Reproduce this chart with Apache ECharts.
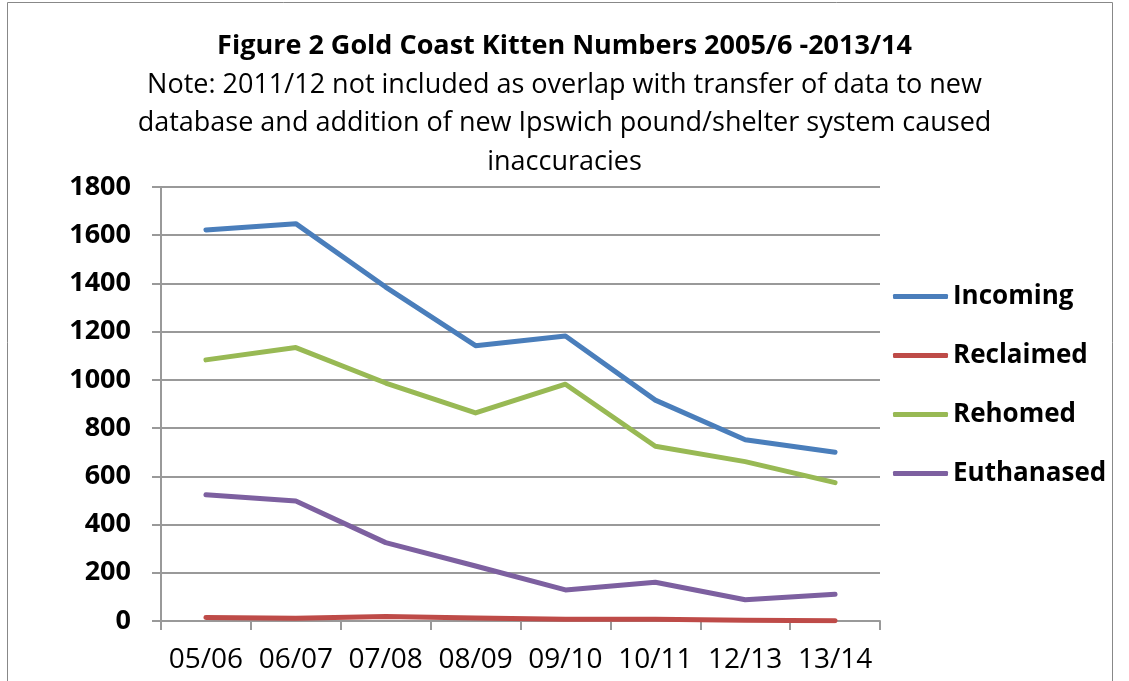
<!DOCTYPE html>
<html>
<head>
<meta charset="utf-8">
<script src="https://cdn.jsdelivr.net/npm/echarts@6/dist/echarts.min.js"></script>
<style>
  html, body { margin: 0; padding: 0; background: #fff; }
  #chart { width: 1129px; height: 681px; }
</style>
</head>
<body>
<div id="chart"></div>
<script>
// Financial years shown (2011/12 omitted)
const categories = ['05/06', '06/07', '07/08', '08/09', '09/10', '10/11', '12/13', '13/14'];

// Kitten numbers per year
const incoming   = [1622, 1648, 1385, 1142, 1182, 916, 752, 700];
const reclaimed  = [15, 11, 19, 12, 7, 7, 3, 1];
const rehomed    = [1083, 1134, 987, 863, 982, 725, 661, 574];
const euthanased = [524, 498, 325, 228, 129, 161, 88, 111];

const yTicks = { min: 0, max: 1800, interval: 200 };

const FONT = '"Open Sans", Lato, sans-serif';

const chart = echarts.init(document.getElementById('chart'), null, { renderer: 'canvas' });

function lineSeries(name, data, color) {
  return {
    name: name,
    type: 'line',
    data: data,
    symbol: 'none',
    smooth: false,
    lineStyle: { width: 5, color: color, cap: 'round', join: 'round' },
    itemStyle: { color: color }
  };
}

chart.setOption({
  animation: false,
  backgroundColor: '#fff',
  textStyle: { fontFamily: FONT },
  title: {
    left: 'center',
    top: 24,
    text: 'Figure 2 Gold Coast Kitten Numbers 2005/6 -2013/14',
    subtext: 'Note: 2011/12 not included as overlap with transfer of data to new\ndatabase and addition of new Ipswich pound/shelter system caused\ninaccuracies',
    itemGap: 3,
    textStyle: { fontFamily: FONT, fontSize: 27, fontWeight: 'bold', color: '#000', lineHeight: 34 },
    subtextStyle: { fontFamily: FONT, fontSize: 27, color: '#000', lineHeight: 38.5, align: 'center' }
  },
  legend: {
    orient: 'vertical',
    left: 888,
    top: 277,
    itemWidth: 55,
    itemHeight: 5,
    itemGap: 30,
    icon: 'roundRect',
    textStyle: { fontFamily: FONT, fontSize: 26, fontWeight: 'bold', color: '#000', lineHeight: 29 },
    data: ['Incoming', 'Reclaimed', 'Rehomed', 'Euthanased']
  },
  grid: { left: 161, right: 249, top: 187, bottom: 60, containLabel: false },
  xAxis: {
    type: 'category',
    data: categories,
    boundaryGap: true,
    axisLine: { lineStyle: { color: '#999', width: 2 } },
    axisTick: { show: true, length: 9, lineStyle: { color: '#999', width: 2 } },
    axisLabel: { interval: 0, margin: 25, fontFamily: FONT, fontSize: 28, color: '#000' },
    splitLine: { show: false }
  },
  yAxis: {
    type: 'value',
    min: yTicks.min,
    max: yTicks.max,
    interval: yTicks.interval,
    axisLine: { show: true, lineStyle: { color: '#999', width: 2 } },
    axisTick: { show: true, length: 9, lineStyle: { color: '#999', width: 2 } },
    axisLabel: { margin: 30, fontFamily: FONT, fontSize: 27, fontWeight: 'bold', color: '#000', formatter: function (v) { return String(v); } },
    splitLine: { show: true, lineStyle: { color: '#999', width: 2 } }
  },
  graphic: [{
    type: 'rect',
    silent: true,
    shape: { x: 7.5, y: 2.5, width: 1105, height: 700 },
    style: { fill: 'none', stroke: '#888', lineWidth: 1 }
  }],
  series: [
    lineSeries('Incoming', incoming, '#4a7ebb'),
    lineSeries('Reclaimed', reclaimed, '#be4b48'),
    lineSeries('Rehomed', rehomed, '#98b954'),
    lineSeries('Euthanased', euthanased, '#7d60a0')
  ]
});
</script>
</body>
</html>
